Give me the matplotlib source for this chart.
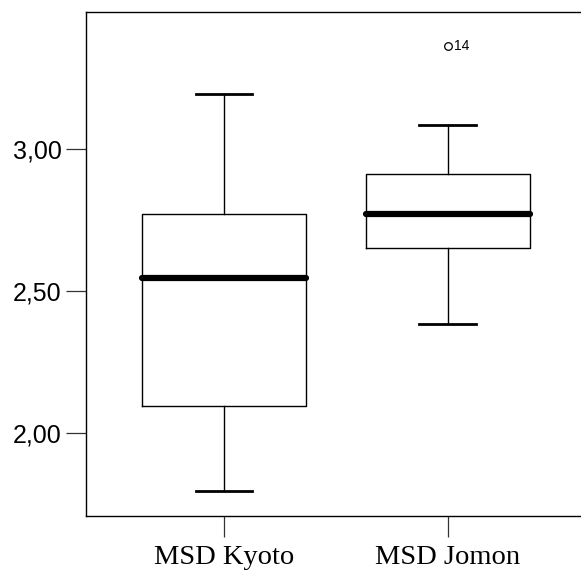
import matplotlib
matplotlib.use("Agg")
import matplotlib.pyplot as plt

categories = ["MSD Kyoto", "MSD Jomon"]
whisker_low = [1.798, 2.385]
q1 = [2.097, 2.651]
median = [2.548, 2.771]
q3 = [2.771, 2.912]
whisker_high = [3.196, 3.086]
outlier_values = [3.365]
outlier_group = [2]
outlier_labels = ["14"]
ytick_values = [2.00, 2.50, 3.00]
ytick_labels = ["2,00", "2,50", "3,00"]

stats = []
for i, name in enumerate(categories):
    stats.append(dict(label=name, whislo=whisker_low[i], q1=q1[i], med=median[i],
                      q3=q3[i], whishi=whisker_high[i], fliers=[]))

fig = plt.figure(figsize=(5.81, 5.74), dpi=100)
ax = fig.add_axes([86 / 581, 1 - 516 / 574, (581 - 86) / 581, (516 - 12) / 574])

positions = list(range(1, len(categories) + 1))
ax.bxp(stats, positions=positions, widths=0.733, showfliers=False,
       boxprops=dict(color="black", linewidth=1.0),
       whiskerprops=dict(color="black", linewidth=1.0),
       capprops=dict(color="black", linewidth=2.0),
       medianprops=dict(color="black", linewidth=4.5, solid_capstyle="round"),
       capwidths=0.253)

for g, v, lab in zip(outlier_group, outlier_values, outlier_labels):
    ax.plot([g], [v], marker="o", markersize=5.5, markerfacecolor="white",
            markeredgecolor="black", markeredgewidth=0.9, linestyle="none")
    ax.annotate(lab, (g, v), xytext=(4.5, 0), textcoords="offset points",
                va="center", ha="left", fontsize=10, family="Liberation Sans")

ax.set_xlim(0.383, 2.596)
ax.set_ylim(1.709, 3.483)
ax.set_yticks(ytick_values)
ax.set_yticklabels(ytick_labels, family="Liberation Sans", fontsize=18)
ax.set_xticks(positions)
ax.set_xticklabels(categories, family="Liberation Serif", fontsize=20.5)
ax.tick_params(axis="y", length=14.5, width=0.9, pad=3, color="#333333")
ax.tick_params(axis="x", length=15, width=0.9, pad=6, color="#333333")
for s in ax.spines.values():
    s.set_linewidth(1.0)
    s.set_color("black")
ax.spines["right"].set_visible(False)

fig.savefig("out.png", dpi=100)
